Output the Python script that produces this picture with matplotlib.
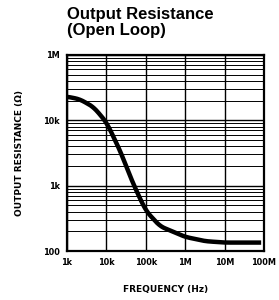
import numpy as np
import matplotlib
matplotlib.use("Agg")
from matplotlib import pyplot as plt
from matplotlib.ticker import FixedLocator, LogLocator, NullFormatter

# curve (frequency in Hz, resistance in ohm)
freq = [1e3, 2.1e3, 4.7e3, 1e4, 2.2e4, 4.8e4, 1e5, 2.3e5, 1e6, 3.2e6, 1e7, 8.5e7]
resistance = [23000, 21000, 16000, 9400, 3500, 1070, 415, 240, 165, 142, 135, 135]

xticks = [1e3, 1e4, 1e5, 1e6, 1e7, 1e8]
xticklabels = ["1k", "10k", "100k", "1M", "10M", "100M"]
yticks = [1e2, 1e3, 1e4, 1e5]
yticklabels = ["100", "1k", "10k", "1M"]

lf = np.log10(freq)
lr = np.log10(resistance)
# smooth the read points in log space
xs = np.linspace(lf[0], lf[-1], 300)
ys = np.interp(xs, lf, lr)
k = np.ones(15) / 15
ys = np.convolve(np.pad(ys, 7, mode="edge"), k, mode="valid")

fig = plt.figure(figsize=(2.79, 3.0), dpi=100)
ax = fig.add_axes([0.240, 0.163, 0.706, 0.654])
ax.set_xscale("log")
ax.set_yscale("log")
ax.set_xlim(1e3, 1e8)
ax.set_ylim(1e2, 1e5)

ax.plot(10 ** xs, 10 ** ys, color="black", linewidth=3.2, solid_capstyle="butt")

ax.xaxis.set_major_locator(FixedLocator(xticks))
ax.set_xticklabels(xticklabels)
ax.xaxis.set_minor_locator(FixedLocator([]))
ax.yaxis.set_major_locator(FixedLocator(yticks))
ax.set_yticklabels(yticklabels)
ax.yaxis.set_minor_locator(LogLocator(base=10, subs=np.arange(2, 10)))
ax.yaxis.set_minor_formatter(NullFormatter())

ax.grid(True, which="major", color="black", linewidth=1.0)
ax.grid(True, which="minor", axis="y", color="black", linewidth=0.7)
ax.tick_params(which="both", length=0, pad=5)
for lab in ax.get_xticklabels() + ax.get_yticklabels():
    lab.set_fontfamily("DejaVu Sans")
    lab.set_fontstretch("condensed")
    lab.set_fontweight("bold")
    lab.set_fontsize(6.5)
for s in ax.spines.values():
    s.set_linewidth(1.6)

ax.set_xlabel("FREQUENCY (Hz)", fontsize=6.5, fontweight="bold", labelpad=13)
ax.set_ylabel("OUTPUT RESISTANCE (Ω)", fontsize=6.5, fontweight="bold", labelpad=14)

fig.text(0.240, 0.978, "Output Resistance\n(Open Loop)", ha="left", va="top",
         fontsize=12, fontweight="bold", family="Liberation Sans", linespacing=1.1)

fig.savefig("out.png", dpi=100)
